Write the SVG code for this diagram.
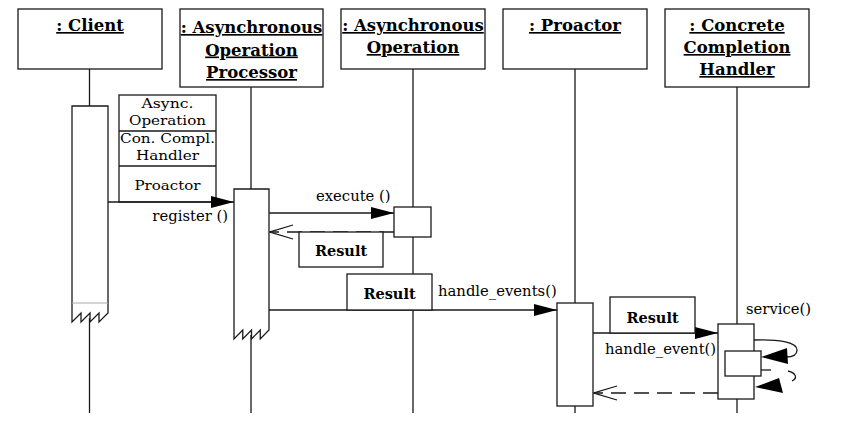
<svg xmlns="http://www.w3.org/2000/svg" width="844" height="429" viewBox="0 0 844 429">
<style>
  .box { fill: #fff; stroke: #1a1a1a; stroke-width: 1.3; }
  .life { stroke: #1a1a1a; stroke-width: 1.3; fill: none; }
  .msg { stroke: #1a1a1a; stroke-width: 1.3; fill: none; }
  .dash { stroke: #1a1a1a; stroke-width: 1.3; fill: none; stroke-dasharray: 15 8; }
  .title { font-family: "DejaVu Serif", "Liberation Serif", serif; font-weight: bold; font-size: 16.5px; text-anchor: middle; text-decoration: underline; fill: #000; }
  .lbl { font-family: "DejaVu Serif", "Liberation Serif", serif; font-size: 14.8px; fill: #000; }
  .res { font-family: "DejaVu Serif", "Liberation Serif", serif; font-weight: bold; font-size: 14.5px; text-anchor: middle; fill: #000; }
  .param { font-family: "DejaVu Serif", "Liberation Serif", serif; font-size: 13.8px; text-anchor: middle; fill: #000; }
</style>
<defs>
  <marker id="filled" markerUnits="userSpaceOnUse" markerWidth="23" markerHeight="12" refX="23" refY="6" orient="auto">
    <path d="M0,0 L23,6 L0,12 Z" fill="#000" stroke="none"/>
  </marker>
  <marker id="open" markerUnits="userSpaceOnUse" markerWidth="25" markerHeight="16" refX="24" refY="8" orient="auto">
    <path d="M1,1 L24,8 L1,15" fill="none" stroke="#1a1a1a" stroke-width="1.3"/>
  </marker>
</defs>

<g id="lifelines">
  <line class="life" x1="89.5" y1="69" x2="89.5" y2="106"/>
  <line class="life" x1="89.5" y1="318" x2="89.5" y2="413"/>
  <line class="life" x1="251" y1="87" x2="251" y2="189"/>
  <line class="life" x1="251" y1="335" x2="251" y2="413"/>
  <line class="life" x1="413" y1="69" x2="413" y2="413"/>
  <line class="life" x1="575" y1="69" x2="575" y2="413"/>
  <line class="life" x1="737" y1="87" x2="737" y2="413"/>
</g>

<g id="client">
  <rect class="box" x="18" y="9" width="144" height="60"/>
  <text class="title" x="90" y="31">: Client</text>
  <path class="box" d="M72,106 L72,322 L81,313 L81,322 L90,313 L90,322 L99,313 L99,322 L108,313 L108,106 Z"/>
  <line x1="72" y1="303" x2="108" y2="303" stroke="#aaa" stroke-width="1"/>
</g>

<g id="async-op-processor">
  <rect class="box" x="180" y="9" width="143" height="78"/>
  <text class="title" x="251.5" y="33">: Asynchronous</text>
  <text class="title" x="251.5" y="55.5">Operation</text>
  <text class="title" x="251.5" y="78">Processor</text>
  <path class="box" d="M234,189 L234,339 L242.75,330 L242.75,339 L251.5,330 L251.5,339 L260.25,330 L260.25,339 L269,330 L269,189 Z"/>
</g>

<g id="async-op">
  <rect class="box" x="341" y="9" width="144" height="60"/>
  <text class="title" x="413" y="31">: Asynchronous</text>
  <text class="title" x="413" y="53">Operation</text>
  <rect class="box" x="394" y="207" width="37" height="30"/>
</g>

<g id="proactor">
  <rect class="box" x="503" y="9" width="144" height="60"/>
  <text class="title" x="575" y="31">: Proactor</text>
  <rect class="box" x="557" y="303" width="36" height="103"/>
</g>

<g id="completion-handler">
  <rect class="box" x="665" y="9" width="144" height="78"/>
  <text class="title" x="737" y="31">: Concrete</text>
  <text class="title" x="737" y="53">Completion</text>
  <text class="title" x="737" y="75">Handler</text>
  <rect class="box" x="718" y="324" width="36" height="75"/>
  <rect class="box" x="725" y="351" width="36" height="25"/>
</g>

<g id="params">
  <rect class="box" x="119" y="95" width="97" height="107"/>
  <line class="msg" x1="119" y1="131" x2="216" y2="131"/>
  <line class="msg" x1="119" y1="166" x2="216" y2="166"/>
  <text class="param" x="167.5" y="107.5" textLength="52" lengthAdjust="spacingAndGlyphs">Async.</text>
  <text class="param" x="167.5" y="124.5" textLength="77" lengthAdjust="spacingAndGlyphs">Operation</text>
  <text class="param" x="167.5" y="142.5" textLength="95" lengthAdjust="spacingAndGlyphs">Con. Compl.</text>
  <text class="param" x="167.5" y="159.5" textLength="63" lengthAdjust="spacingAndGlyphs">Handler</text>
  <text class="param" x="167.5" y="190" textLength="66" lengthAdjust="spacingAndGlyphs">Proactor</text>
</g>

<g id="connectors">
  <line class="msg" x1="108" y1="202" x2="234" y2="202" marker-end="url(#filled)"/>
  <line class="msg" x1="269" y1="213" x2="394" y2="213" marker-end="url(#filled)"/>
  <line class="dash" x1="394" y1="232" x2="270" y2="232" stroke-dasharray="16 6" marker-end="url(#open)"/>
  <line class="msg" x1="269" y1="310" x2="557" y2="310" marker-end="url(#filled)"/>
  <line class="msg" x1="593" y1="333" x2="718" y2="333" marker-end="url(#filled)"/>
  <line class="dash" x1="718" y1="393" x2="594" y2="393" marker-end="url(#open)"/>
  <path class="msg" d="M754,340 C778,339 797,342 797,350 C797,355 792,357 786,357"/>
  <polygon points="761,357 787,348 788,364" fill="#000"/>
  <line class="msg" x1="761" y1="370" x2="771" y2="370"/>
  <path class="msg" d="M788,371 C796,373 798,378 792,381"/>
  <polygon points="755,387 779,378 783,393" fill="#000"/>
</g>

<g id="result-boxes">
  <rect class="box" x="299" y="232" width="84" height="35"/>
  <text class="res" x="341" y="256">Result</text>
  <rect class="box" x="347" y="274" width="85" height="36"/>
  <text class="res" x="389.5" y="299">Result</text>
  <rect class="box" x="610" y="297" width="85" height="36"/>
  <text class="res" x="652.5" y="323">Result</text>
</g>

<g id="labels">
  <text class="lbl" x="228" y="221" text-anchor="end">register ()</text>
  <text class="lbl" x="316" y="201">execute ()</text>
  <text class="lbl" x="438" y="296">handle_events()</text>
  <text class="lbl" x="605" y="354">handle_event()</text>
  <text class="lbl" x="746" y="314">service()</text>
</g>
</svg>
